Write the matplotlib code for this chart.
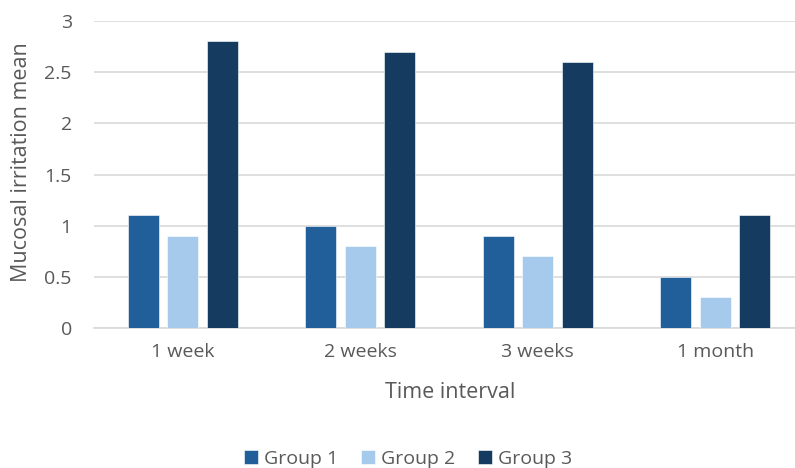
import matplotlib
matplotlib.use("Agg")
import matplotlib.pyplot as plt
import numpy as np

categories = ["1 week", "2 weeks", "3 weeks", "1 month"]
group1 = [1.1, 1.0, 0.9, 0.5]
group2 = [0.9, 0.8, 0.7, 0.3]
group3 = [2.8, 2.7, 2.6, 1.1]
series_names = ["Group 1", "Group 2", "Group 3"]
colors = ["#215F9A", "#A6CAEC", "#163B60"]

plt.rcParams["font.family"] = ["Open Sans", "DejaVu Sans"]
text_color = "#595959"

fig = plt.figure(figsize=(7.95, 4.68), dpi=100)
W, H = 795, 468
ax = fig.add_axes([94 / W, 1 - 328 / H, (795 - 94) / W, (328 - 21) / H])

x = np.arange(len(categories))
bar_w = 0.175
step = 0.2225
for i, (vals, name, c) in enumerate(zip([group1, group2, group3], series_names, colors)):
    ax.bar(x + (i - 1) * step, vals, width=bar_w, color=c, label=name,
           edgecolor="white", linewidth=0.4, zorder=3)

ax.set_xlim(-0.5, 3.45)
ax.set_ylim(0, 3)
ax.set_yticks(np.arange(0, 3.01, 0.5))
ax.set_yticklabels(["0", "0.5", "1", "1.5", "2", "2.5", "3"])
ax.set_xticks(x)
ax.set_xticklabels(categories)
ax.yaxis.grid(True, color="#D9D9D9", linewidth=1.2, zorder=0)
ax.set_axisbelow(True)
for s in ["top", "right", "left"]:
    ax.spines[s].set_visible(False)
ax.spines["bottom"].set_color("#D9D9D9")
ax.spines["bottom"].set_linewidth(1.2)
ax.tick_params(axis="both", length=0, colors=text_color, labelsize=14)
ax.tick_params(axis="y", pad=16)
ax.tick_params(axis="x", pad=11)

# Axis titles placed in figure coordinates
fig.text(22 / W, 1 - 162 / H, "Mucosal irritation mean", rotation=90,
         ha="center", va="center", fontsize=15.5, color=text_color)
fig.text(450 / W, 1 - 392 / H, "Time interval",
         ha="center", va="center", fontsize=15.5, color=text_color)

fig.legend(loc="center", bbox_to_anchor=(408 / W, 1 - 459 / H), ncol=3, frameon=False,
           fontsize=14, labelcolor=text_color, handlelength=0.7, handleheight=0.7,
           handletextpad=0.3, columnspacing=1.2)

fig.savefig("out.png", dpi=100)
